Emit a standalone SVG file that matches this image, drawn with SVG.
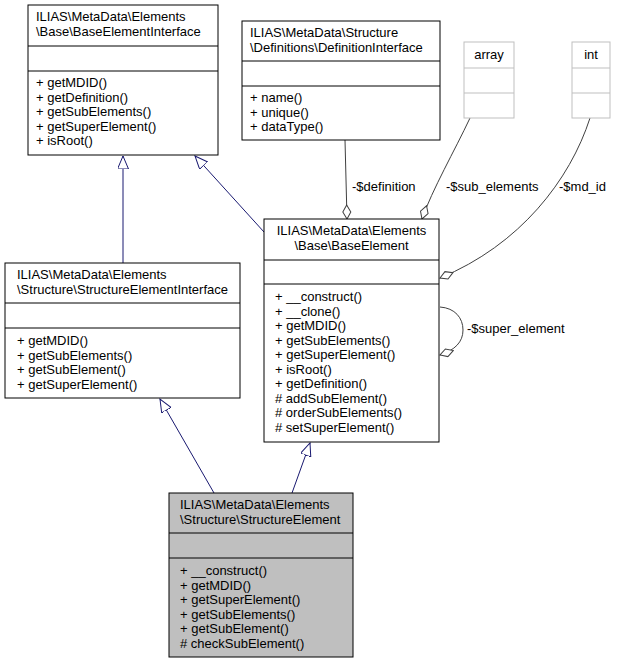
<svg xmlns="http://www.w3.org/2000/svg" width="617" height="663" viewBox="0 0 617 663">
<style>
text{font-family:"Liberation Sans",Arial,sans-serif;font-size:13px;fill:#000}
.b{fill:#fff;stroke:#000;stroke-width:1}
.g{fill:#fff;stroke:#bfbfbf}
.gt{fill:#000}
.inh{fill:none;stroke:#191970}
.cmp{fill:none;stroke:#404040}
.l{stroke:#000}
</style>
<defs>
<marker id="tri" markerWidth="14" markerHeight="12" refX="13" refY="5.5" orient="auto" markerUnits="userSpaceOnUse"><path d="M0,0 L13,5.5 L0,11 Z" fill="#fff" stroke="#191970"/></marker>
<marker id="dia" markerWidth="16" markerHeight="10" refX="15" refY="5" orient="auto" markerUnits="userSpaceOnUse"><path d="M1,5 L8,1 L15,5 L8,9 Z" fill="#fff" stroke="#404040"/></marker>
</defs>
<g id="connectors">
<path class="inh" d="M123,263 L123,156" marker-end="url(#tri)"/>
<path class="inh" d="M264,232 L195,156" marker-end="url(#tri)"/>
<path class="inh" d="M214,493 L160,399" marker-end="url(#tri)"/>
<path class="inh" d="M292,493 L310,443" marker-end="url(#tri)"/>
<path class="cmp" d="M345,140 L347,219" marker-end="url(#dia)"/>
<text x="352" y="191">-$definition</text>
<path class="cmp" d="M470,118 C455,150 432,190 422,219" marker-end="url(#dia)"/>
<text x="446" y="191">-$sub_elements</text>
<path class="cmp" d="M590,118 C570,180 520,245 440,278" marker-end="url(#dia)"/>
<text x="559" y="191">-$md_id</text>
<path class="cmp" d="M440,307 C455,308 463,318 463,330 C463,342 455,350 440,355" marker-end="url(#dia)"/>
<text x="467" y="333">-$super_element</text>
</g>
<g id="BaseElementInterface">
<rect class="b" x="28" y="5" width="190" height="150"/>
<line class="l" x1="28" y1="46" x2="218" y2="46"/><line class="l" x1="28" y1="71" x2="218" y2="71"/>
<text x="36" y="21">ILIAS\MetaData\Elements</text><text x="36" y="35.5">\Base\BaseElementInterface</text>
<text x="36" y="87">+ getMDID()</text><text x="36" y="101.5">+ getDefinition()</text><text x="36" y="116">+ getSubElements()</text><text x="36" y="130.5">+ getSuperElement()</text><text x="36" y="145">+ isRoot()</text>
</g>
<g id="DefinitionInterface">
<rect class="b" x="242" y="21" width="198" height="119"/>
<line class="l" x1="242" y1="61" x2="440" y2="61"/><line class="l" x1="242" y1="86" x2="440" y2="86"/>
<text x="250" y="37">ILIAS\MetaData\Structure</text><text x="250" y="51.5">\Definitions\DefinitionInterface</text>
<text x="250" y="102">+ name()</text><text x="250" y="116.5">+ unique()</text><text x="250" y="131">+ dataType()</text>
</g>
<g id="array">
<rect class="g" x="464" y="42" width="50" height="76"/>
<line class="g" x1="464" y1="68" x2="514" y2="68"/><line class="g" x1="464" y1="93" x2="514" y2="93"/>
<text class="gt" x="489" y="59" text-anchor="middle">array</text>
</g>
<g id="int">
<rect class="g" x="572" y="42" width="38" height="76"/>
<line class="g" x1="572" y1="68" x2="610" y2="68"/><line class="g" x1="572" y1="93" x2="610" y2="93"/>
<text class="gt" x="591" y="59" text-anchor="middle">int</text>
</g>
<g id="BaseElement">
<rect class="b" x="264" y="219" width="175" height="223"/>
<line class="l" x1="264" y1="260" x2="439" y2="260"/><line class="l" x1="264" y1="284" x2="439" y2="284"/>
<text x="351.5" y="235" text-anchor="middle">ILIAS\MetaData\Elements</text><text x="351.5" y="249.5" text-anchor="middle">\Base\BaseElement</text>
<text x="275" y="301">+ __construct()</text><text x="275" y="315.5">+ __clone()</text><text x="275" y="330">+ getMDID()</text><text x="275" y="344.5">+ getSubElements()</text><text x="275" y="359">+ getSuperElement()</text><text x="275" y="373.5">+ isRoot()</text><text x="275" y="388">+ getDefinition()</text><text x="275" y="402.5"># addSubElement()</text><text x="275" y="417"># orderSubElements()</text><text x="275" y="431.5"># setSuperElement()</text>
</g>
<g id="StructureElementInterface">
<rect class="b" x="5" y="263" width="235" height="135"/>
<line class="l" x1="5" y1="303" x2="240" y2="303"/><line class="l" x1="5" y1="328" x2="240" y2="328"/>
<text x="17" y="279">ILIAS\MetaData\Elements</text><text x="17" y="293.5">\Structure\StructureElementInterface</text>
<text x="17" y="345">+ getMDID()</text><text x="17" y="359.5">+ getSubElements()</text><text x="17" y="374">+ getSubElement()</text><text x="17" y="388.5">+ getSuperElement()</text>
</g>
<g id="StructureElement">
<rect x="169" y="493" width="184" height="164" fill="#bfbfbf" stroke="#000"/>
<line class="l" x1="169" y1="533" x2="353" y2="533"/><line class="l" x1="169" y1="558" x2="353" y2="558"/>
<text x="180" y="509">ILIAS\MetaData\Elements</text><text x="180" y="523.5">\Structure\StructureElement</text>
<text x="180" y="575">+ __construct()</text><text x="180" y="589.5">+ getMDID()</text><text x="180" y="604">+ getSuperElement()</text><text x="180" y="618.5">+ getSubElements()</text><text x="180" y="633">+ getSubElement()</text><text x="180" y="647.5"># checkSubElement()</text>
</g>
</svg>
